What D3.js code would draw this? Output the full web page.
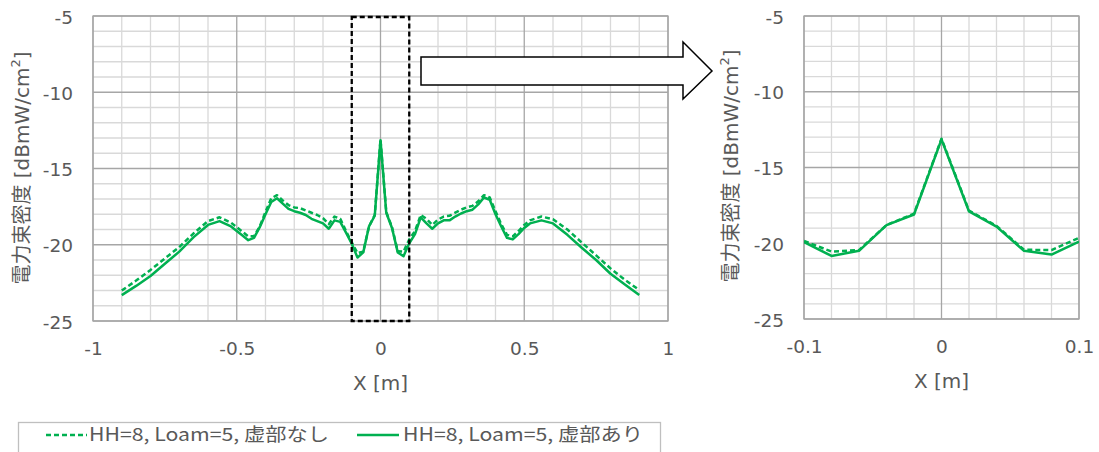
<!DOCTYPE html>
<html>
<head>
<meta charset="utf-8">
<script src="https://cdn.jsdelivr.net/npm/d3@7"></script>
<style>
  body { margin: 0; background: #fff; }
  svg { display: block; }
  .tick-label { font-family: "DejaVu Sans", "Noto Sans CJK JP", sans-serif; font-size: 18.5px; fill: #595959; }
  .axis-title { font-family: "DejaVu Sans", "Noto Sans CJK JP", sans-serif; font-size: 20px; fill: #595959; }
  .legend-text { font-family: "Noto Sans CJK JP", "DejaVu Sans", sans-serif; font-size: 18px; fill: #595959; }
</style>
</head>
<body>
<div id="chart"></div>
<script>
// X positions [m]
const xValues = [
  -0.90, -0.85, -0.80, -0.75, -0.70, -0.65, -0.60, -0.56, -0.52, -0.50,
  -0.48, -0.46, -0.44, -0.42, -0.40, -0.38, -0.36, -0.34, -0.32, -0.30,
  -0.28, -0.26, -0.24, -0.22, -0.20, -0.18, -0.16, -0.14, -0.12, -0.10,
  -0.08, -0.06, -0.04, -0.02, 0.00, 0.02, 0.04, 0.06, 0.08, 0.10,
  0.12, 0.14, 0.16, 0.18, 0.20, 0.22, 0.24, 0.26, 0.28, 0.30,
  0.32, 0.34, 0.36, 0.38, 0.40, 0.42, 0.44, 0.46, 0.48, 0.50,
  0.52, 0.56, 0.60, 0.65, 0.70, 0.75, 0.80, 0.85, 0.90
];

// 虚部なし (dashed)
const withoutImag = [
  -23.0, -22.35, -21.65, -20.9, -20.15, -19.25, -18.45, -18.2, -18.55, -18.85,
  -19.15, -19.45, -19.45, -18.8, -17.85, -16.95, -16.75, -17.1, -17.4, -17.55,
  -17.6, -17.75, -17.9, -18.05, -18.25, -18.65, -18.15, -18.3, -19.1, -19.85,
  -20.55, -20.45, -18.8, -18.05, -13.1, -17.85, -18.85, -20.43, -20.45, -19.65,
  -19.1, -18.05, -18.3, -18.7, -18.35, -18.15, -18.1, -17.9, -17.7, -17.55,
  -17.45, -17.15, -16.75, -16.9, -17.8, -18.65, -19.35, -19.45, -19.1, -18.7,
  -18.4, -18.15, -18.33, -19.0, -19.85, -20.7, -21.55, -22.3, -22.97
];

// 虚部あり (solid)
const withImag = [
  -23.3, -22.7, -22.05, -21.25, -20.45, -19.5, -18.7, -18.45, -18.8, -19.1,
  -19.4, -19.7, -19.55, -18.85, -18.0, -17.2, -16.95, -17.3, -17.65, -17.8,
  -17.9, -18.05, -18.3, -18.45, -18.6, -18.95, -18.4, -18.5, -19.2, -19.93,
  -20.84, -20.5, -18.8, -18.1, -13.14, -17.9, -18.9, -20.5, -20.75, -19.9,
  -19.3, -18.2, -18.6, -18.95, -18.6, -18.4, -18.4, -18.15, -17.95, -17.8,
  -17.7, -17.35, -16.9, -17.05, -18.0, -18.8, -19.55, -19.65, -19.3, -18.9,
  -18.6, -18.4, -18.6, -19.35, -20.2, -21.0, -21.9, -22.6, -23.3
];

const seriesNames = ["HH=8, Loam=5, 虚部なし", "HH=8, Loam=5, 虚部あり"];
const yDomain = [-25, -5];
const leftXDomain = [-1, 1];
const rightXDomain = [-0.1, 0.1];

const green = "#00b050";
const W = 1099, H = 452;

const svg = d3.select("#chart").append("svg")
  .attr("width", W)
  .attr("height", H);

const series = [
  { name: seriesNames[0], values: withoutImag, dash: "5,3" },
  { name: seriesNames[1], values: withImag, dash: null }
];

const fmt = d => String(Math.round(d * 100) / 100);

function drawPanel(p) {
  const x = d3.scaleLinear().domain(p.xDomain).range([p.left, p.right]);
  const y = d3.scaleLinear().domain(yDomain).range([p.bottom, p.top]);
  const g = svg.append("g");

  const isMajor = (v, step) => Math.abs(v / step - Math.round(v / step)) < 1e-6;

  // minor grid
  x.ticks(p.xMinor).forEach(v => {
    if (isMajor(v, p.xMajor)) return;
    g.append("line")
      .attr("x1", x(v)).attr("x2", x(v))
      .attr("y1", p.top).attr("y2", p.bottom)
      .attr("stroke", "#d9d9d9").attr("stroke-width", 1.3);
  });
  y.ticks(20).forEach(v => {
    if (isMajor(v, 5)) return;
    g.append("line")
      .attr("x1", p.left).attr("x2", p.right)
      .attr("y1", y(v)).attr("y2", y(v))
      .attr("stroke", "#d9d9d9").attr("stroke-width", 1.3);
  });
  // major grid
  x.ticks(p.xMinor).filter(v => isMajor(v, p.xMajor)).forEach(v => {
    g.append("line")
      .attr("x1", x(v)).attr("x2", x(v))
      .attr("y1", p.top).attr("y2", p.bottom)
      .attr("stroke", "#a6a6a6").attr("stroke-width", 1.3);
  });
  y.ticks(4).forEach(v => {
    g.append("line")
      .attr("x1", p.left).attr("x2", p.right)
      .attr("y1", y(v)).attr("y2", y(v))
      .attr("stroke", "#a6a6a6").attr("stroke-width", 1.3);
  });
  g.append("rect")
    .attr("x", p.left).attr("y", p.top)
    .attr("width", p.right - p.left).attr("height", p.bottom - p.top)
    .attr("fill", "none").attr("stroke", "#a6a6a6").attr("stroke-width", 1.3);

  // axes (labels only)
  const yAxis = g.append("g")
    .attr("transform", `translate(${p.left - 20},0)`)
    .call(d3.axisLeft(y).tickValues(y.ticks(4)).tickSize(0).tickPadding(0).tickFormat(fmt));
  const xAxis = g.append("g")
    .attr("transform", `translate(0,${p.bottom + 21})`)
    .call(d3.axisBottom(x).tickValues(x.ticks(p.xMinor).filter(v => isMajor(v, p.xMajor)))
      .tickSize(0).tickPadding(0).tickFormat(fmt));
  [yAxis, xAxis].forEach(a => {
    a.select(".domain").remove();
    a.selectAll("text").attr("class", "tick-label").attr("fill", null);
  });
  yAxis.selectAll("text").attr("dy", "0.38em");
  xAxis.selectAll("text").attr("dy", "0.71em");

  // titles
  svg.append("text")
    .attr("class", "axis-title")
    .attr("x", (p.left + p.right) / 2)
    .attr("y", p.bottom + 69)
    .attr("text-anchor", "middle")
    .text("X [m]");
  const yt = svg.append("text")
    .attr("class", "axis-title")
    .attr("transform", `translate(${p.yTitleX},${p.yTitleY}) rotate(-90)`)
    .attr("text-anchor", "middle")
    .attr("dominant-baseline", "central");
  yt.append("tspan").text("電力束密度 [dBmW/cm");
  yt.append("tspan").attr("font-size", "13px").attr("dy", "-0.55em").text("2");
  yt.append("tspan").attr("dy", "0.35em").text("]");

  // lines
  const clipId = "clip-" + p.id;
  svg.append("clipPath").attr("id", clipId)
    .append("rect")
    .attr("x", p.left).attr("y", p.top)
    .attr("width", p.right - p.left).attr("height", p.bottom - p.top);

  const line = d3.line()
    .x(d => x(d[0]))
    .y(d => y(d[1]));

  const lg = svg.append("g").attr("clip-path", `url(#${clipId})`);
  series.forEach(s => {
    const pts = xValues.map((xv, i) => [xv, s.values[i]])
      .filter(d => d[0] >= p.xDomain[0] - 1e-9 && d[0] <= p.xDomain[1] + 1e-9);
    lg.append("path")
      .attr("d", line(pts))
      .attr("fill", "none")
      .attr("stroke", green)
      .attr("stroke-width", 2.5)
      .attr("stroke-linejoin", "round")
      .attr("stroke-dasharray", s.dash);
  });

  return { x, y };
}

const left = drawPanel({
  id: "left", xDomain: leftXDomain, left: 93, right: 668, top: 16, bottom: 321,
  xMinor: 20, xMajor: 0.5, yTitleX: 22, yTitleY: 168
});
drawPanel({
  id: "right", xDomain: rightXDomain, left: 804, right: 1079, top: 16, bottom: 319,
  xMinor: 10, xMajor: 0.1, yTitleX: 731, yTitleY: 166
});

// zoom box on the left panel
svg.append("rect")
  .attr("x", left.x(rightXDomain[0]))
  .attr("y", left.y(yDomain[1]) + 1)
  .attr("width", left.x(rightXDomain[1]) - left.x(rightXDomain[0]))
  .attr("height", left.y(yDomain[0]) - left.y(yDomain[1]) - 1)
  .attr("fill", "none")
  .attr("stroke", "#000")
  .attr("stroke-width", 2.3)
  .attr("stroke-dasharray", "5,3");

// arrow
const arrow = [[421, 57], [683, 57], [683, 42], [712, 71], [683, 99], [683, 85], [421, 85]];
svg.append("polygon")
  .attr("points", arrow.map(d => d.join(",")).join(" "))
  .attr("fill", "#fff")
  .attr("stroke", "#000")
  .attr("stroke-width", 1.5);

// legend
const legend = svg.append("g");
legend.append("rect")
  .attr("x", 18.5).attr("y", 422.5)
  .attr("width", 642).attr("height", 60)
  .attr("fill", "#fff")
  .attr("stroke", "#bfbfbf")
  .attr("stroke-width", 1.3);

const legendItems = [
  { s: series[0], x0: 46, x1: 87, tx: 89 },
  { s: series[1], x0: 357, x1: 399, tx: 403 }
];
legendItems.forEach(it => {
  legend.append("line")
    .attr("x1", it.x0).attr("x2", it.x1)
    .attr("y1", 435).attr("y2", 435)
    .attr("stroke", green)
    .attr("stroke-width", 2.5)
    .attr("stroke-dasharray", it.s.dash);
  legend.append("text")
    .attr("class", "legend-text")
    .attr("x", it.tx)
    .attr("y", 441)
    .attr("textLength", 240)
    .attr("lengthAdjust", "spacingAndGlyphs")
    .text(it.s.name);
});
</script>
</body>
</html>
